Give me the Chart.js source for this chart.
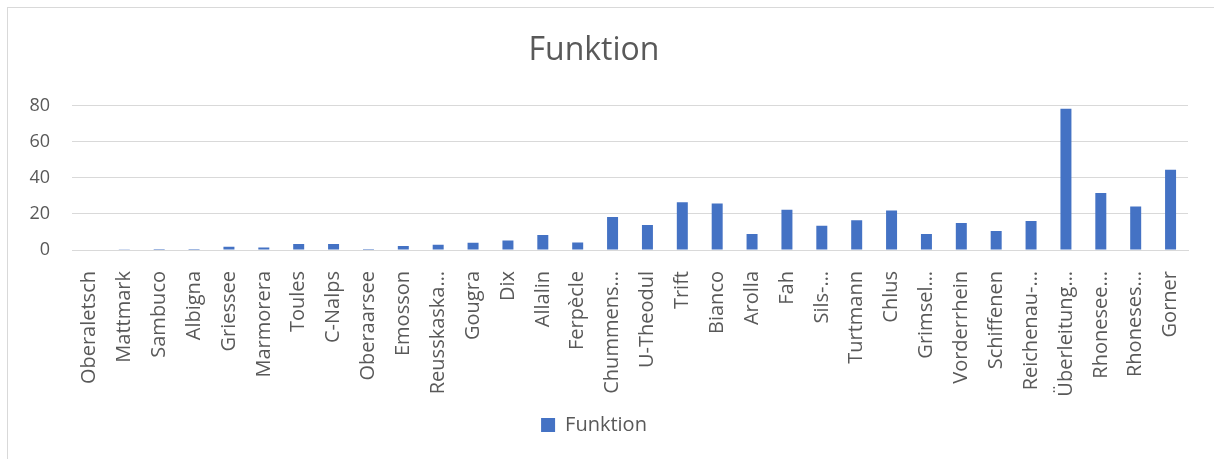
<!DOCTYPE html>
<html lang="de">

<head>
    <meta charset="UTF-8">
    <title>Funktion</title>
    <style>
        body { margin: 0; background: #fff; }
        #wrap { width: 1214px; height: 459px; }
    </style>
</head>

<body>
    <div id="wrap">
        <canvas id="canvas"></canvas>
    </div>

    <script src="https://cdn.jsdelivr.net/npm/chart.js@4.4.0/dist/chart.umd.min.js"></script>
    <script>
        // data
        const stauseen = ['Oberaletsch', 'Mattmark', 'Sambuco', 'Albigna', 'Griessee', 'Marmorera', 'Toules',
            'C-Nalps', 'Oberaarsee', 'Emosson', 'Reusskaska…', 'Gougra', 'Dix', 'Allalin', 'Ferpècle',
            'Chummens…', 'U-Theodul', 'Trift', 'Bianco', 'Arolla', 'Fah', 'Sils-…', 'Turtmann', 'Chlus',
            'Grimsel…', 'Vorderrhein', 'Schiffenen', 'Reichenau-…', 'Überleitung…', 'Rhonesee…',
            'Rhoneses…', 'Gorner'];
        const funktion = [0, 0.1, 0.5, 0.5, 1.8, 1.4, 3.3, 3.3, 0.5, 2.2, 2.9, 4.0, 5.3, 8.3, 4.2,
            18.3, 13.8, 26.4, 25.7, 8.8, 22.2, 13.4, 16.5, 21.8, 8.8, 14.9, 10.5, 16.1, 78.2, 31.6,
            24.0, 44.4];
        const yTicks = [0, 20, 40, 60, 80];

        const grey = '#595959';
        const gridGrey = '#d9d9d9';

        // thin frame like the excel chart area
        const frame = {
            id: 'frame',
            beforeDraw(chart) {
                const c = chart.ctx;
                c.save();
                c.strokeStyle = gridGrey;
                c.lineWidth = 1;
                c.strokeRect(7.5, 7.5, chart.width + 20, chart.height + 20);
                c.restore();
            }
        };

        const ctx = document.getElementById('canvas').getContext('2d');
        const myChart = new Chart(ctx, {
            type: 'bar',
            data: {
                labels: stauseen,
                datasets: [{
                    label: 'Funktion',
                    data: funktion,
                    backgroundColor: '#4472c4',
                    borderWidth: 0,
                    categoryPercentage: 1,
                    barPercentage: 0.315
                }]
            },
            plugins: [frame],
            options: {
                responsive: true,
                maintainAspectRatio: false,
                animation: false,
                layout: {
                    padding: { left: 0, right: 26, top: 0, bottom: 14 }
                },
                plugins: {
                    title: {
                        display: true,
                        text: 'Funktion',
                        color: grey,
                        font: { family: 'Open Sans', size: 32, weight: 'normal' },
                        padding: { top: 32, bottom: 35 }
                    },
                    legend: {
                        position: 'bottom',
                        labels: {
                            color: grey,
                            font: { family: 'Open Sans', size: 20 },
                            boxWidth: 14,
                            boxHeight: 14,
                            padding: 10
                        }
                    },
                    tooltip: { enabled: false }
                },
                scales: {
                    x: {
                        grid: { display: false },
                        border: { color: gridGrey, width: 1 },
                        ticks: {
                            color: grey,
                            font: { family: 'Open Sans', size: 20 },
                            minRotation: 90,
                            maxRotation: 90,
                            autoSkip: false,
                            padding: 13
                        },
                        afterFit(scale) { scale.height = 155; }
                    },
                    y: {
                        min: 0,
                        max: 80,
                        afterBuildTicks(scale) {
                            scale.ticks = yTicks.map(v => ({ value: v }));
                        },
                        grid: { color: gridGrey, lineWidth: 1, drawTicks: false },
                        border: { display: false },
                        ticks: {
                            color: grey,
                            font: { family: 'Open Sans', size: 18 },
                            padding: 22
                        },
                        afterFit(scale) { scale.width = 72; }
                    }
                }
            }
        });
    </script>
</body>

</html>
